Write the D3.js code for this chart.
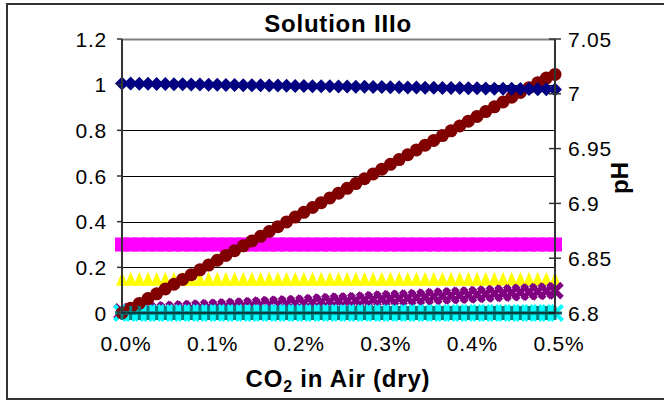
<!DOCTYPE html>
<html>
<head>
<meta charset="utf-8">
<script src="https://cdn.jsdelivr.net/npm/d3@7"></script>
<style>
  body { margin: 0; background: #fff; }
  svg { display: block; font-family: Arial, "Liberation Sans", sans-serif; }
</style>
</head>
<body>
<div id="chart"></div>
<script>
// ---- data ----
// CO2 in air, in percent
const co2 = [0.00,0.01,0.02,0.03,0.04,0.05,0.06,0.07,0.08,0.09,
             0.10,0.11,0.12,0.13,0.14,0.15,0.16,0.17,0.18,0.19,
             0.20,0.21,0.22,0.23,0.24,0.25,0.26,0.27,0.28,0.29,
             0.30,0.31,0.32,0.33,0.34,0.35,0.36,0.37,0.38,0.39,
             0.40,0.41,0.42,0.43,0.44,0.45,0.46,0.47,0.48,0.49,0.50];

// primary axis series
const redSeries = [0.000,0.021,0.042,0.063,0.084,0.105,0.126,0.147,0.168,0.189,
                   0.210,0.231,0.252,0.273,0.294,0.315,0.336,0.357,0.378,0.399,
                   0.420,0.441,0.462,0.483,0.504,0.525,0.546,0.567,0.588,0.609,
                   0.630,0.651,0.672,0.693,0.714,0.735,0.756,0.777,0.798,0.819,
                   0.840,0.861,0.882,0.903,0.924,0.945,0.966,0.987,1.008,1.029,1.045];
const magentaSeries = [0.3,0.3,0.3,0.3,0.3,0.3,0.3,0.3,0.3,0.3,
                       0.3,0.3,0.3,0.3,0.3,0.3,0.3,0.3,0.3,0.3,
                       0.3,0.3,0.3,0.3,0.3,0.3,0.3,0.3,0.3,0.3,
                       0.3,0.3,0.3,0.3,0.3,0.3,0.3,0.3,0.3,0.3,
                       0.3,0.3,0.3,0.3,0.3,0.3,0.3,0.3,0.3,0.3,0.3];
const yellowSeries = [0.15,0.15,0.15,0.15,0.15,0.15,0.15,0.15,0.15,0.15,
                      0.15,0.15,0.15,0.15,0.15,0.15,0.15,0.15,0.15,0.15,
                      0.15,0.15,0.15,0.15,0.15,0.15,0.15,0.15,0.15,0.15,
                      0.15,0.15,0.15,0.15,0.15,0.15,0.15,0.15,0.15,0.15,
                      0.15,0.15,0.15,0.15,0.15,0.15,0.15,0.15,0.15,0.15,0.15];
const purpleSeries = [0.005,0.007,0.009,0.011,0.012,0.014,0.016,0.018,0.020,0.022,
                      0.024,0.025,0.027,0.029,0.031,0.033,0.035,0.037,0.038,0.040,
                      0.042,0.044,0.046,0.048,0.050,0.052,0.053,0.055,0.057,0.059,
                      0.061,0.063,0.065,0.066,0.068,0.070,0.072,0.074,0.076,0.078,
                      0.079,0.081,0.083,0.085,0.087,0.089,0.091,0.092,0.094,0.096,0.098];
const cyanSeries = [0,0,0,0,0,0,0,0,0,0, 0,0,0,0,0,0,0,0,0,0,
                    0,0,0,0,0,0,0,0,0,0, 0,0,0,0,0,0,0,0,0,0,
                    0,0,0,0,0,0,0,0,0,0,0];
const tealSeries = [0,0,0,0,0,0,0,0,0,0, 0,0,0,0,0,0,0,0,0,0,
                    0,0,0,0,0,0,0,0,0,0, 0,0,0,0,0,0,0,0,0,0,
                    0,0,0,0,0,0,0,0,0,0,0];

// secondary axis series (pH)
const phSeries = [7.0094,7.0093,7.0092,7.0091,7.0090,7.0089,7.0088,7.0086,7.0085,7.0084,
                  7.0083,7.0082,7.0081,7.0080,7.0079,7.0078,7.0077,7.0076,7.0075,7.0073,
                  7.0072,7.0071,7.0070,7.0069,7.0068,7.0067,7.0066,7.0065,7.0064,7.0063,
                  7.0062,7.0060,7.0059,7.0058,7.0057,7.0056,7.0055,7.0054,7.0053,7.0052,
                  7.0051,7.0050,7.0049,7.0047,7.0046,7.0045,7.0044,7.0043,7.0042,7.0041,7.0040];

const leftTicks = [0, 0.2, 0.4, 0.6, 0.8, 1, 1.2];
const rightTicks = [6.8, 6.85, 6.9, 6.95, 7, 7.05];
const xTicks = [0, 0.1, 0.2, 0.3, 0.4, 0.5];

// ---- svg setup ----
const W = 664, H = 406;
const plot = { left: 122, right: 555, top: 39, bottom: 313 };

const svg = d3.select("#chart").append("svg")
    .attr("width", W)
    .attr("height", H);

// outer chart border (right edge runs off the picture)
svg.append("rect")
    .attr("x", 7).attr("y", 4)
    .attr("width", 680).attr("height", 395)
    .attr("fill", "#fff")
    .attr("stroke", "#333")
    .attr("stroke-width", 2);

// ---- scales ----
const x = d3.scaleLinear().domain([0, 0.5]).range([plot.left, plot.right]);
const yL = d3.scaleLinear().domain([0, 1.2]).range([plot.bottom, plot.top]);
const yR = d3.scaleLinear().domain([6.8, 7.05]).range([plot.bottom, plot.top]);

// gridlines
svg.append("g")
    .selectAll("line")
    .data(leftTicks.slice(1, -1))
    .join("line")
    .attr("x1", plot.left).attr("x2", plot.right)
    .attr("y1", d => Math.round(yL(d)) + 0.5)
    .attr("y2", d => Math.round(yL(d)) + 0.5)
    .attr("stroke", "#000")
    .attr("stroke-width", 1);

// top border of plot area
svg.append("line")
    .attr("x1", plot.left).attr("x2", plot.right)
    .attr("y1", plot.top + 0.5).attr("y2", plot.top + 0.5)
    .attr("stroke", "#808080")
    .attr("stroke-width", 2);

// ---- markers ----
function markerPath(type, s) {
    const h = s / 2;
    if (type === "diamond") return `M0,${-h}L${h},0L0,${h}L${-h},0Z`;
    if (type === "square") return `M${-h},${-h}H${h}V${h}H${-h}Z`;
    if (type === "triangle") return `M0,${-h}L${h * 0.85},${h}L${-h * 0.85},${h}Z`;
    if (type === "circle") return d3.symbol(d3.symbolCircle, Math.PI * h * h)();
    if (type === "x") return `M${-h},${-h}L${h},${h}M${-h},${h}L${h},${-h}`;
    if (type === "plus") return `M0,${-h}V${h}M${-h},0H${h}`;
    return "";
}

const seriesList = [
    { values: magentaSeries, axis: yL, type: "square",   size: 14, fill: "#FF00FF" },
    { values: yellowSeries,  axis: yL, type: "triangle", size: 14, fill: "#FFFF00" },
    { values: purpleSeries,  axis: yL, type: "x",        size: 14, stroke: "#800080", sw: 5 },
    { values: cyanSeries,    axis: yL, type: "x",        size: 15, stroke: "#00FFFF", sw: 4 },
    { values: redSeries,     axis: yL, type: "circle",   size: 13, fill: "#800000" },
    { values: tealSeries,    axis: yL, type: "plus",     size: 14, stroke: "#008080", sw: 3 },
    { values: phSeries,      axis: yR, type: "diamond",  size: 14, fill: "#000080" }
];

seriesList.forEach(function(s) {
    svg.append("g")
        .selectAll("path")
        .data(co2.map((c, i) => ({ x: c, y: s.values[i] })))
        .join("path")
        .attr("transform", d => "translate(" + x(d.x) + "," + s.axis(d.y) + ")")
        .attr("d", markerPath(s.type, s.size))
        .attr("fill", s.fill || "none")
        .attr("stroke", s.stroke || "none")
        .attr("stroke-width", s.sw || 0);
});

// ---- axes ----
const axisColor = "#333";
const tickFont = "21px";
const tickSpacing = "0.8px";

// left axis
const leftAxis = svg.append("g");
leftAxis.append("line")
    .attr("x1", plot.left).attr("x2", plot.left)
    .attr("y1", plot.top).attr("y2", plot.bottom)
    .attr("stroke", axisColor).attr("stroke-width", 2);
leftAxis.selectAll("line.tick")
    .data(leftTicks)
    .join("line")
    .attr("class", "tick")
    .attr("x1", plot.left - 5).attr("x2", plot.left)
    .attr("y1", d => yL(d)).attr("y2", d => yL(d))
    .attr("stroke", axisColor).attr("stroke-width", 1.5);
leftAxis.selectAll("text")
    .data(leftTicks)
    .join("text")
    .attr("x", 107)
    .attr("y", d => yL(d))
    .attr("dy", "0.36em")
    .attr("text-anchor", "end")
    .style("font-size", tickFont)
    .style("letter-spacing", tickSpacing)
    .text(d => String(d));

// right axis
const rightAxis = svg.append("g");
rightAxis.append("line")
    .attr("x1", plot.right).attr("x2", plot.right)
    .attr("y1", plot.top).attr("y2", plot.bottom)
    .attr("stroke", axisColor).attr("stroke-width", 2);
rightAxis.selectAll("line.tick")
    .data(rightTicks)
    .join("line")
    .attr("class", "tick")
    .attr("x1", plot.right - 6).attr("x2", plot.right + 6)
    .attr("y1", d => yR(d)).attr("y2", d => yR(d))
    .attr("stroke", axisColor).attr("stroke-width", 1.5);
rightAxis.selectAll("text")
    .data(rightTicks)
    .join("text")
    .attr("x", 568)
    .attr("y", d => yR(d))
    .attr("dy", "0.36em")
    .attr("text-anchor", "start")
    .style("font-size", tickFont)
    .style("letter-spacing", tickSpacing)
    .text(d => String(d));

// bottom axis
const bottomAxis = svg.append("g");
bottomAxis.append("line")
    .attr("x1", plot.left).attr("x2", plot.right)
    .attr("y1", plot.bottom).attr("y2", plot.bottom)
    .attr("stroke", "#000").attr("stroke-width", 1);
bottomAxis.selectAll("text")
    .data(xTicks)
    .join("text")
    .attr("x", d => x(d) + 4)
    .attr("y", 351)
    .attr("text-anchor", "middle")
    .style("font-size", tickFont)
    .style("letter-spacing", tickSpacing)
    .text(d => d.toFixed(1) + "%");

// ---- titles ----
svg.append("text")
    .attr("x", 338)
    .attr("y", 32)
    .attr("text-anchor", "middle")
    .style("font-size", "24px")
    .style("font-weight", "bold")
    .style("letter-spacing", "0.8px")
    .text("Solution IIIo");

const xTitle = svg.append("text")
    .attr("x", 338)
    .attr("y", 387)
    .attr("text-anchor", "middle")
    .style("font-size", "24px")
    .style("font-weight", "bold")
    .style("letter-spacing", "0.8px");
xTitle.append("tspan").text("CO");
xTitle.append("tspan").attr("dy", 5).style("font-size", "16px").text("2");
xTitle.append("tspan").attr("dy", -5).text(" in Air (dry)");

svg.append("text")
    .attr("transform", "translate(628,178) rotate(-90)")
    .attr("text-anchor", "middle")
    .style("font-size", "24px")
    .style("font-weight", "bold")
    .text("pH");
</script>
</body>
</html>
